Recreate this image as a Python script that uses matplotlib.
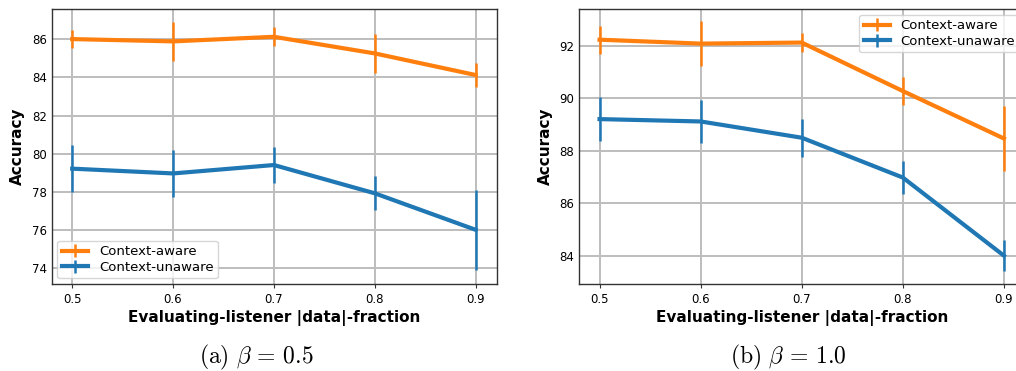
import numpy as np
import matplotlib.pyplot as plt

plt.rcParams['mathtext.fontset'] = 'cm'

fractions = [0.5, 0.6, 0.7, 0.8, 0.9]

# beta = 0.5
aware_a = [86.00, 85.88, 86.12, 85.25, 84.12]
aware_a_err = [0.46, 1.04, 0.50, 1.04, 0.64]
unaware_a = [79.22, 78.97, 79.41, 77.93, 76.02]
unaware_a_err = [1.22, 1.23, 0.95, 0.89, 2.10]

# beta = 1.0
aware_b = [92.24, 92.09, 92.13, 90.28, 88.47]
aware_b_err = [0.53, 0.85, 0.37, 0.53, 1.23]
unaware_b = [89.21, 89.12, 88.50, 86.98, 84.00]
unaware_b_err = [0.84, 0.83, 0.72, 0.62, 0.59]

captions = [r'$\mathrm{(a)}\ \beta\, =\, 0.5$', r'$\mathrm{(b)}\ \beta\, =\, 1.0$']

fig = plt.figure(figsize=(10.16, 3.71), dpi=100)
ax1 = fig.add_axes([0.0512, 0.2353, 0.4378, 0.7397])
ax2 = fig.add_axes([0.5702, 0.2353, 0.4388, 0.7397])


def panel(ax, aw, aw_e, un, un_e, ylim, ticks, loc, anchor=None):
    ax.errorbar(fractions, aw, yerr=aw_e, color='#ff7f0e', lw=3, elinewidth=1.8,
                label='Context-aware', zorder=3)
    ax.errorbar(fractions, un, yerr=un_e, color='#1f77b4', lw=3, elinewidth=1.8,
                label='Context-unaware', zorder=3)
    ax.set_xlim(0.48, 0.921)
    ax.set_ylim(*ylim)
    ax.set_xticks(fractions)
    ax.set_yticks(ticks)
    ax.tick_params(labelsize=8.5, length=3, color='#333333', width=0.8)
    ax.tick_params(axis='y', length=0)
    ax.grid(True, color='#bdbdbd', lw=1.4)
    ax.set_axisbelow(True)
    for s in ax.spines.values():
        s.set_color('#333333')
        s.set_linewidth(1.0)
    ax.set_xlabel('Evaluating-listener |data|-fraction', fontsize=11, fontweight='bold',
                  labelpad=3)
    ax.set_ylabel('Accuracy', fontsize=11, fontweight='bold', labelpad=5)
    ax.legend(loc=loc, bbox_to_anchor=anchor, fontsize=9.5, handlelength=2.0,
              borderaxespad=0.4, labelspacing=0.2, borderpad=0.35)


panel(ax1, aware_a, aware_a_err, unaware_a, unaware_a_err, (73.2, 87.56),
      [74, 76, 78, 80, 82, 84, 86], 'lower left')
panel(ax2, aware_b, aware_b_err, unaware_b, unaware_b_err, (82.93, 93.4),
      [84, 86, 88, 90, 92], 'upper right', anchor=(1.0, 1.0))

fig.text(0.252, 0.036, captions[0], ha='center', va='center', fontsize=17)
fig.text(0.776, 0.036, captions[1], ha='center', va='center', fontsize=17)

fig.savefig('out.png', dpi=100)
